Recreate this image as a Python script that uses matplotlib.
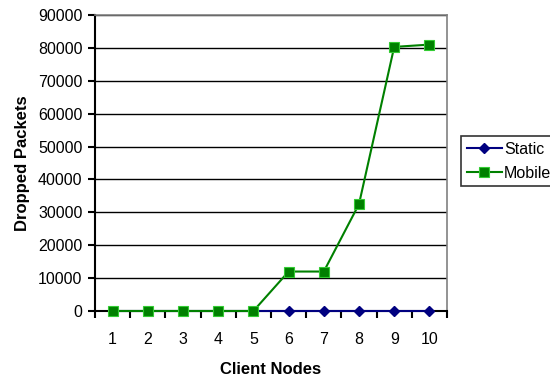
import matplotlib
matplotlib.use("Agg")
import matplotlib.pyplot as plt
from matplotlib.ticker import FixedLocator, NullFormatter

plt.rcParams['font.family'] = ['Liberation Sans', 'DejaVu Sans']

client_nodes = [1, 2, 3, 4, 5, 6, 7, 8, 9, 10]
static_dropped = [0, 0, 0, 0, 0, 0, 0, 0, 0, 0]
mobile_dropped = [0, 0, 0, 0, 0, 12000, 12000, 32500, 80300, 81000]
y_ticks = [0, 10000, 20000, 30000, 40000, 50000, 60000, 70000, 80000, 90000]

fig = plt.figure(figsize=(5.5, 3.76), dpi=100)
ax = fig.add_axes([95 / 550, 1 - 311 / 376, 352 / 550, 296 / 376])

ax.plot(client_nodes, static_dropped, color='#000080', lw=1.5,
        marker='D', markersize=5.5, markerfacecolor='#000080',
        markeredgecolor='#000080', label='Static', zorder=3, clip_on=False)
ax.plot(client_nodes, mobile_dropped, color='#008000', lw=1.5,
        marker='s', markersize=7, markerfacecolor='#008000',
        markeredgecolor='#33cc33', markeredgewidth=0.8,
        label='Mobile', zorder=4, clip_on=False)

ax.set_xlim(0.5, 10.5)
ax.set_ylim(0, 90000)
ax.set_yticks(y_ticks)
ax.set_yticklabels([str(v) for v in y_ticks], fontsize=11.5)

# Category axis: labels at centres, tick marks on the boundaries
ax.set_xticks(client_nodes)
ax.set_xticklabels([str(c) for c in client_nodes], fontsize=11.5)
ax.tick_params(axis='x', which='major', length=0, pad=15)
ax.xaxis.set_minor_locator(FixedLocator([i + 0.5 for i in range(0, 11)]))
ax.xaxis.set_minor_formatter(NullFormatter())
ax.tick_params(axis='x', which='minor', length=5, width=1.5, color='black',
               direction='out')
ax.tick_params(axis='y', length=5, width=1.5, direction='out', pad=4)

ax.grid(axis='y', color='black', lw=1.0)
ax.set_axisbelow(True)

for side in ('top', 'right'):
    ax.spines[side].set_color('#808080')
    ax.spines[side].set_linewidth(1.2)
for side in ('left', 'bottom'):
    ax.spines[side].set_color('black')
    ax.spines[side].set_linewidth(1.5)

ax.set_xlabel('Client Nodes', fontsize=12, fontweight='bold', labelpad=11)
ax.set_ylabel('Dropped Packets', fontsize=12, fontweight='bold', labelpad=6)

leg = fig.legend(loc='upper left', bbox_to_anchor=(461 / 550, 1 - 136.5 / 376),
                 frameon=True, fancybox=False, fontsize=11.5,
                 handlelength=2.2, handletextpad=0.15, borderpad=0.35,
                 labelspacing=0.55, borderaxespad=0)
leg.get_frame().set_edgecolor('black')
leg.get_frame().set_linewidth(1.2)

fig.savefig('out.png', dpi=100)
